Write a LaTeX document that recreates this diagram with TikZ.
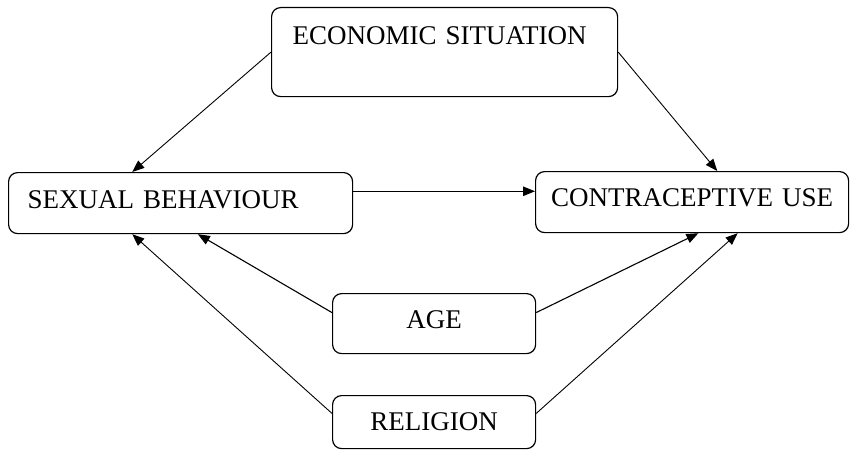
\documentclass[tikz,border=0pt]{standalone}
\usepackage{fontspec}
\setmainfont{Liberation Serif}
\usetikzlibrary{calc}
\usetikzlibrary{arrows.meta}

\begin{document}
\begin{tikzpicture}[x=1pt, y=-1pt,
    box/.style={draw, rounded corners=9pt, line width=1.2pt, anchor=north west, inner ysep=0pt, font=\fontsize{27}{30}\selectfont},
    link/.style={line width=.9pt, -{Triangle[length=12pt,width=9.5pt]}}]
    \useasboundingbox (0,0) rectangle (853,452);
    \node[box, text width=304pt, inner xsep=21pt, align=left, text height=37pt, text depth=52pt] (eco) at (271,7) {ECONOMIC SITUATION};
    \node[box, text width=306pt, inner xsep=19pt, align=left, text height=36pt, text depth=25pt] (sex) at (8,172) {SEXUAL BEHAVIOUR};
    \node[box, text width=293pt, inner xsep=10pt, align=center, text height=35pt, text depth=26pt] (con) at (535,171) {CONTRACEPTIVE USE};
    \node[box, text width=183pt, inner xsep=10pt, align=center, text height=35pt, text depth=25pt] (age) at (332,293) {AGE};
    \node[box, text width=183pt, inner xsep=10pt, align=center, text height=35pt, text depth=18pt] (rel) at (332,395) {RELIGION};
    % points on the box edges
    \coordinate (s1) at ($(sex.north east)!.31!(sex.south east)$);
    \coordinate (a1) at ($(age.north west)!.32!(age.south west)$);
    \coordinate (a2) at ($(age.north east)!.32!(age.south east)$);
    \coordinate (r1) at ($(rel.north west)!.34!(rel.south west)$);
    \coordinate (r2) at ($(rel.north east)!.34!(rel.south east)$);
    \draw[link] (eco.west) -- ($(sex.north west)!.36!(sex.north east)$);
    \draw[link] (eco.east) -- ($(con.north west)!.58!(con.north east)$);
    \draw[link, line width=1.1pt] (s1) -- (s1 -| con.west);
    \draw[link, line width=1.1pt] (a1) -- ($(sex.south west)!.55!(sex.south east)$);
    \draw[link, line width=1.1pt] (a2) -- ($(con.south west)!.52!(con.south east)$);
    \draw[link] (r1) -- ($(sex.south west)!.36!(sex.south east)$);
    \draw[link] (r2) -- ($(con.south west)!.645!(con.south east)$);
\end{tikzpicture}
\end{document}
